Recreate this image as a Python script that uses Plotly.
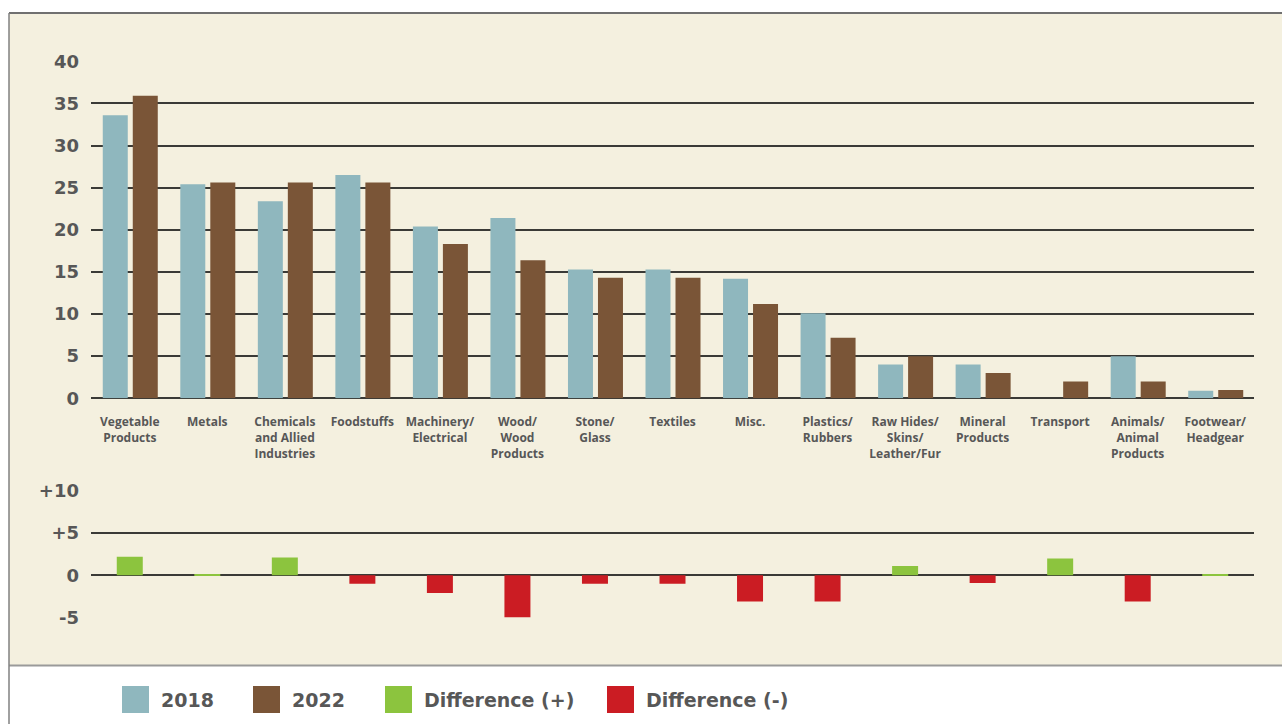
import plotly.graph_objects as go

# ---------------- data ----------------
categories = [
    "Vegetable<br>Products", "Metals", "Chemicals<br>and Allied<br>Industries", "Foodstuffs",
    "Machinery/<br>Electrical", "Wood/<br>Wood<br>Products", "Stone/<br>Glass", "Textiles",
    "Misc.", "Plastics/<br>Rubbers", "Raw Hides/<br>Skins/<br>Leather/Fur", "Mineral<br>Products",
    "Transport", "Animals/<br>Animal<br>Products", "Footwear/<br>Headgear",
]
values_2018 = [33.6, 25.4, 23.4, 26.5, 20.4, 21.4, 15.3, 15.3, 14.2, 10.1, 4.0, 4.0, 0.0, 5.0, 0.9]
values_2022 = [35.9, 25.6, 25.6, 25.6, 18.3, 16.4, 14.3, 14.3, 11.2, 7.2, 5.0, 3.0, 2.0, 2.0, 1.0]
difference = [2.2, 0.15, 2.1, -1.0, -2.1, -5.0, -1.0, -1.0, -3.1, -3.1, 1.1, -0.9, 2.0, -3.1, 0.15]
top_ticks = [0, 5, 10, 15, 20, 25, 30, 35, 40]
bottom_tickvals = [-5, 0, 5, 10]
bottom_ticktext = ["-5", "0", "+5", "+10"]
legend_labels = ["2018", "2022", "Difference (+)", "Difference (-)"]

# ---------------- style ----------------
W, H = 1282, 724
C2018 = "#8FB7BE"
C2022 = "#7A5537"
CPOS = "#8CC43E"
CNEG = "#CB1C23"
CREAM = "#F4F0DF"
GRID = "#3a3a36"
TXT = "#575757"
FONT_CAT = "Open Sans"
FONT_NUM = "DejaVu Sans"

def fx(px):
    return px / W

def fy(py):
    return 1 - py / H

diff_pos = [d if d > 0 else None for d in difference]
diff_neg = [d if d < 0 else None for d in difference]

slot = (1254 - 91) / 15.0
bw = 25 / slot

fig = go.Figure()
fig.add_trace(go.Bar(x=categories, y=values_2018, name="2018", marker_color=C2018,
                     marker_line_width=0, width=bw, offset=-27 / slot, xaxis="x", yaxis="y",
                     showlegend=False))
fig.add_trace(go.Bar(x=categories, y=values_2022, name="2022", marker_color=C2022,
                     marker_line_width=0, width=bw, offset=3 / slot, xaxis="x", yaxis="y",
                     showlegend=False))
fig.add_trace(go.Bar(x=categories, y=diff_pos, name="Difference (+)", marker_color=CPOS,
                     marker_line_width=0, width=26 / slot, offset=-13 / slot, xaxis="x2", yaxis="y2",
                     showlegend=False))
fig.add_trace(go.Bar(x=categories, y=diff_neg, name="Difference (-)", marker_color=CNEG,
                     marker_line_width=0, width=26 / slot, offset=-13 / slot, xaxis="x2", yaxis="y2",
                     showlegend=False))

xdom = [fx(91), fx(1254)]
shapes = [
    dict(type="rect", xref="paper", yref="paper", x0=fx(9), x1=1.0, y0=fy(665), y1=fy(13),
         fillcolor=CREAM, line_width=0, layer="below"),
    dict(type="line", xref="paper", yref="paper", x0=fx(9), x1=1.0, y0=fy(13), y1=fy(13),
         line=dict(color="#707070", width=2), layer="below"),
    dict(type="line", xref="paper", yref="paper", x0=fx(9), x1=1.0, y0=fy(665.5), y1=fy(665.5),
         line=dict(color="#9a9a9a", width=2), layer="below"),
    dict(type="line", xref="paper", yref="paper", x0=fx(9), x1=fx(9), y0=fy(13), y1=0,
         line=dict(color="#808080", width=1.5), layer="below"),
]

# legend built from shapes + annotations
legend_colors = [C2018, C2022, CPOS, CNEG]
legend_sq_x = [122, 253, 385, 607]
annotations = []
for lab, col, x0 in zip(legend_labels, legend_colors, legend_sq_x):
    shapes.append(dict(type="rect", xref="paper", yref="paper", x0=fx(x0), x1=fx(x0 + 27),
                       y0=fy(713), y1=fy(686), fillcolor=col, line_width=0))
    annotations.append(dict(xref="paper", yref="paper", x=fx(x0 + 37), y=fy(700), text=lab,
                            showarrow=False, xanchor="left", yanchor="middle",
                            font=dict(family=FONT_NUM, size=19, color=TXT, weight="bold")))

fig.update_layout(
    width=W, height=H,
    margin=dict(l=0, r=0, t=0, b=0, pad=0, autoexpand=False),
    paper_bgcolor="white", plot_bgcolor="rgba(0,0,0,0)",
    barmode="overlay",
    showlegend=False,
    shapes=shapes,
    annotations=annotations,
    xaxis=dict(domain=xdom, anchor="y", type="category", range=[-0.5, 14.5],
               showgrid=False, zeroline=False, showline=False, ticks="",
               tickfont=dict(family=FONT_CAT, size=12, color=TXT, weight="bold"),
               ticklabelstandoff=15, tickangle=0, automargin=False),
    yaxis=dict(domain=[fy(398.3), fy(61.3)], anchor="x", range=[0, 40], tickvals=top_ticks,
               showgrid=True, gridcolor=GRID, gridwidth=1.6, zeroline=True, zerolinecolor=GRID,
               zerolinewidth=1.6, showline=False, ticks="",
               tickfont=dict(family=FONT_NUM, size=18, color=TXT, weight="bold"),
               ticklabelstandoff=11, automargin=False),
    xaxis2=dict(domain=xdom, anchor="y2", type="category", range=[-0.5, 14.5],
                showgrid=False, zeroline=False, showline=False, ticks="", showticklabels=False,
                automargin=False),
    yaxis2=dict(domain=[fy(617.5), fy(491)], anchor="x2", range=[-5, 10], tickvals=bottom_tickvals,
                ticktext=bottom_ticktext,
                showgrid=True, gridcolor=GRID, gridwidth=1.6, zeroline=True, zerolinecolor=GRID,
                zerolinewidth=1.6, showline=False, ticks="",
                tickfont=dict(family=FONT_NUM, size=18, color=TXT, weight="bold"),
                ticklabelstandoff=11, automargin=False),
)

fig.write_html("out.html")
